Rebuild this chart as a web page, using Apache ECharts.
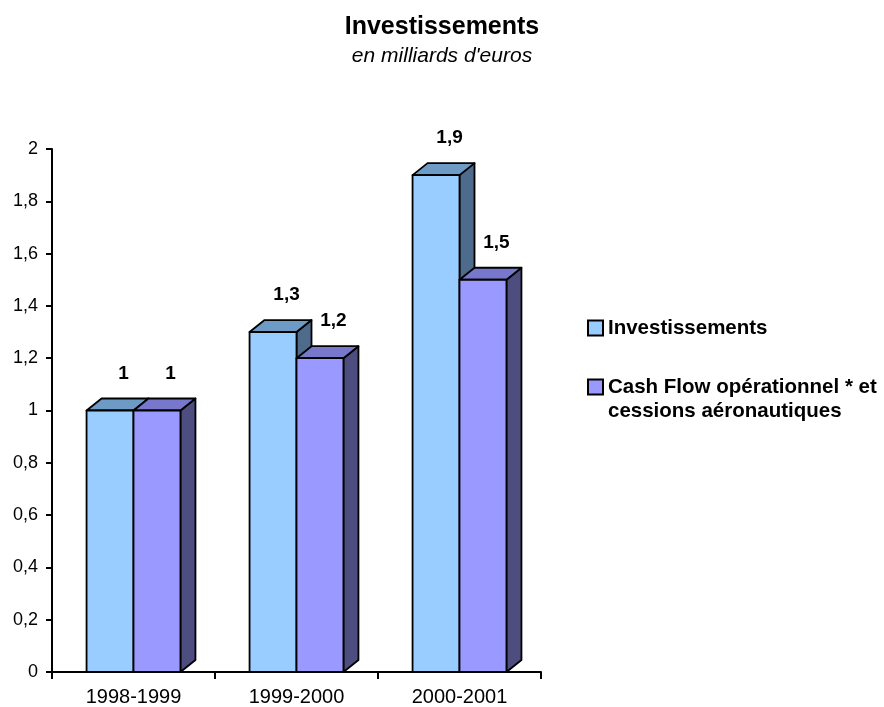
<!DOCTYPE html>
<html>
<head>
<meta charset="utf-8">
<script src="https://cdn.jsdelivr.net/npm/echarts@6/dist/echarts.min.js"></script>
<style>
  html, body { margin: 0; padding: 0; background: #ffffff; }
  #chart { width: 884px; height: 707px; }
</style>
</head>
<body>
<div id="chart"></div>
<script>
// Periods on the category axis
const categories = ['1998-1999', '1999-2000', '2000-2001'];
// Values in billions of euros
const investissements = [1, 1.3, 1.9];
const cashFlow = [1, 1.2, 1.5];
const seriesNames = ['Investissements', 'Cash Flow opérationnel * et cessions aéronautiques'];
// Value axis range
const yMin = 0;
const yMax = 2;
const yStep = 0.2;

const FONT = '"Liberation Sans", Arial, Helvetica, sans-serif';
const DEPTH_X = 15;
const DEPTH_Y = 12;
const BAR_FRACTION = 0.288;

const palettes = [
  { front: '#99CCFF', top: '#6E9BC6', side: '#4E6B8B' },
  { front: '#9999FF', top: '#7777CC', side: '#4D4D80' }
];

const fmt = v => String(+Number(v).toFixed(1)).replace('.', ',');

// Draws a 3D-looking bar (front, top and right faces) for one slot of the pair
function makeRender(slot) {
  const pal = palettes[slot];
  return function (params, api) {
    const idx = api.value(0);
    const val = api.value(1);
    const base = api.coord([idx, 0]);
    const head = api.coord([idx, val]);
    const band = api.size([1, 0])[0];
    const w = band * BAR_FRACTION;
    const x0 = base[0] + (slot === 0 ? -w : 0);
    const x1 = x0 + w;
    const yb = base[1];
    const yt = head[1];
    const stroke = { stroke: '#000000', lineWidth: 1.8, lineJoin: 'round' };
    return {
      type: 'group',
      children: [
        {
          type: 'polygon',
          shape: { points: [[x1, yt], [x1 + DEPTH_X, yt - DEPTH_Y], [x1 + DEPTH_X, yb - DEPTH_Y], [x1, yb]] },
          style: Object.assign({ fill: pal.side }, stroke)
        },
        {
          type: 'polygon',
          shape: { points: [[x0, yt], [x0 + DEPTH_X, yt - DEPTH_Y], [x1 + DEPTH_X, yt - DEPTH_Y], [x1, yt]] },
          style: Object.assign({ fill: pal.top }, stroke)
        },
        {
          type: 'rect',
          shape: { x: x0, y: yt, width: w, height: yb - yt },
          style: Object.assign({ fill: pal.front }, stroke)
        },
        {
          type: 'text',
          style: {
            text: fmt(val),
            x: (x0 + x1) / 2 + DEPTH_X / 2 + 6,
            y: yt - DEPTH_Y - 25,
            align: 'center',
            verticalAlign: 'middle',
            font: 'bold 19px ' + FONT,
            fill: '#000000'
          }
        }
      ]
    };
  };
}

const legendText = { fontFamily: FONT, fontWeight: 'bold', fontSize: 20.5, lineHeight: 24, color: '#000000' };

const chart = echarts.init(document.getElementById('chart'), null, { renderer: 'canvas' });

chart.setOption({
  backgroundColor: '#ffffff',
  animation: false,
  title: {
    text: 'Investissements',
    subtext: "en milliards d'euros",
    left: 'center',
    top: 10,
    itemGap: 6,
    textStyle: { fontFamily: FONT, fontWeight: 'bold', fontSize: 25, color: '#000000' },
    subtextStyle: { fontFamily: FONT, fontStyle: 'italic', fontSize: 21, color: '#000000' }
  },
  legend: [
    {
      orient: 'vertical',
      left: 582,
      top: 311,
      icon: 'rect',
      itemWidth: 15,
      itemHeight: 15,
      itemGap: 0,
      itemStyle: { borderColor: '#000000', borderWidth: 2 },
      data: [seriesNames[0]],
      textStyle: legendText
    },
    {
      orient: 'vertical',
      left: 582,
      top: 346,
      icon: 'rect',
      itemWidth: 15,
      itemHeight: 15,
      itemGap: 0,
      itemStyle: { borderColor: '#000000', borderWidth: 2 },
      data: [seriesNames[1]],
      // leading blank line keeps the marker level with the first text line
      formatter: () => ' \nCash Flow opérationnel * et\ncessions aéronautiques',
      textStyle: legendText
    }
  ],
  grid: { left: 52, right: 343, top: 149, bottom: 33, containLabel: false },
  xAxis: {
    type: 'category',
    data: categories,
    boundaryGap: true,
    axisLine: { show: true, lineStyle: { color: '#000000', width: 2 } },
    axisTick: { show: true, length: 7, lineStyle: { color: '#000000', width: 2 } },
    axisLabel: { margin: 15, fontFamily: FONT, fontSize: 20, color: '#000000' },
    splitLine: { show: false }
  },
  yAxis: {
    type: 'value',
    min: yMin,
    max: yMax,
    interval: yStep,
    axisLine: { show: true, lineStyle: { color: '#000000', width: 2 } },
    axisTick: { show: true, length: 6, lineStyle: { color: '#000000', width: 2 } },
    axisLabel: { margin: 14, fontFamily: FONT, fontSize: 18, color: '#000000', formatter: fmt },
    splitLine: { show: false }
  },
  series: [
    {
      name: seriesNames[0],
      type: 'custom',
      z: 2,
      renderItem: makeRender(0),
      itemStyle: { color: palettes[0].front },
      encode: { x: 0, y: 1 },
      data: investissements.map((v, i) => [i, v])
    },
    {
      name: seriesNames[1],
      type: 'custom',
      z: 3,
      renderItem: makeRender(1),
      itemStyle: { color: palettes[1].front },
      encode: { x: 0, y: 1 },
      data: cashFlow.map((v, i) => [i, v])
    }
  ]
});
</script>
</body>
</html>
